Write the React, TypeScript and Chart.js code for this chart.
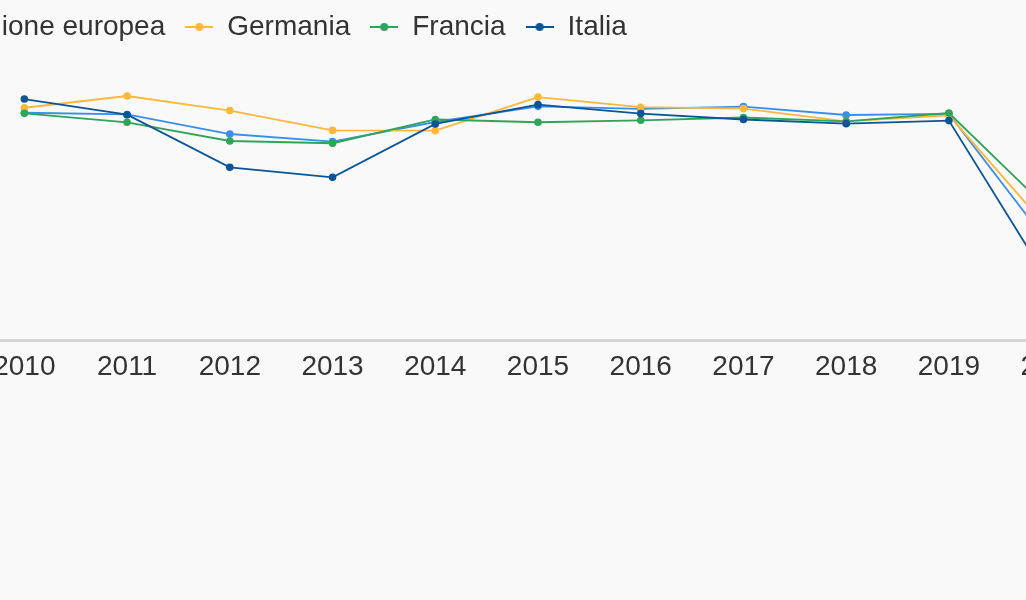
import React, { useEffect, useRef } from "react";
import { Chart, registerables } from "chart.js";

Chart.register(...registerables);

const years = ["2010", "2011", "2012", "2013", "2014", "2015", "2016", "2017", "2018", "2019", "2020"];
const seriesNames = ["Unione europea", "Germania", "Francia", "Italia"];
const euValues = [81.3, 80.7, 73.7, 71.0, 78.0, 83.6, 82.7, 83.5, 80.5, 80.9, 33.0];
const germanyValues = [83.1, 87.3, 82.1, 75.0, 74.9, 86.9, 83.3, 82.8, 78.2, 80.4, 38.4];
const franceValues = [81.1, 77.9, 71.2, 70.4, 78.9, 77.9, 78.6, 79.6, 78.2, 81.2, 45.6];
const italyValues = [86.2, 80.6, 61.8, 58.2, 77.3, 84.2, 81.0, 78.9, 77.4, 78.5, 19.2];
const colors = ["#3a8eeb", "#fdb83a", "#2fa55a", "#0a5596"];

function makeMarker(color: string): HTMLCanvasElement {
  const c = document.createElement("canvas");
  c.width = 28;
  c.height = 10;
  const ctx = c.getContext("2d")!;
  ctx.strokeStyle = color;
  ctx.lineWidth = 2;
  ctx.beginPath();
  ctx.moveTo(0, 5);
  ctx.lineTo(28, 5);
  ctx.stroke();
  ctx.fillStyle = color;
  ctx.beginPath();
  ctx.arc(14, 5, 4, 0, Math.PI * 2);
  ctx.fill();
  return c;
}

export default function App() {
  const ref = useRef<HTMLCanvasElement | null>(null);
  useEffect(() => {
    if (!ref.current) return;
    const all = [euValues, germanyValues, franceValues, italyValues];
    const markers = colors.map(makeMarker);
    const chart = new Chart(ref.current, {
      type: "line",
      data: {
        labels: years,
        datasets: all.map((vals, i) => ({
          label: seriesNames[i],
          data: vals,
          borderColor: colors[i],
          backgroundColor: colors[i],
          pointBackgroundColor: colors[i],
          pointBorderWidth: 0,
          pointRadius: 3.8,
          borderWidth: 1.8,
          tension: 0,
          order: 4 - i,
        })),
      },
      options: {
        animation: false,
        responsive: false,
        maintainAspectRatio: false,
        layout: { padding: { left: 4, right: 20, top: 0, bottom: 0 } },
        plugins: {
          tooltip: { enabled: false },
          legend: {
            display: true,
            align: "start",
            labels: {
              usePointStyle: true,
              pointStyleWidth: 28,
              padding: 20,
              color: "#333333",
              font: { family: "'Liberation Sans', Arial, sans-serif", size: 28 },
              sort: (a: any, b: any) => a.datasetIndex - b.datasetIndex,
              generateLabels: (ch: any) => {
                const items = Chart.defaults.plugins.legend.labels.generateLabels(ch);
                return items.map((it: any) => ({ ...it, pointStyle: markers[it.datasetIndex] }));
              },
            },
          },
        },
        scales: {
          x: {
            offset: true,
            grid: { display: false, drawTicks: false },
            border: { display: true, color: "#d3d3d3", width: 3 },
            ticks: {
              color: "#333333",
              padding: 10,
              maxRotation: 0,
              autoSkip: false,
              font: { family: "'Liberation Sans', Arial, sans-serif", size: 28 },
            },
            afterFit: (s: any) => {
              s.height = 50;
            },
          },
          y: {
            min: 0,
            max: 103.4,
            grid: { display: false, drawTicks: false },
            border: { display: false },
            ticks: { display: false },
            afterFit: (s: any) => {
              s.width = 69;
            },
          },
        },
      },
    });
    return () => chart.destroy();
  }, []);
  return (
    <div
      style={{
        position: "fixed",
        left: 0,
        top: 0,
        width: 1026,
        height: 600,
        overflow: "hidden",
        background: "#f9f9f9",
      }}
    >
      <canvas
        ref={ref}
        width={1223}
        height={397}
        style={{ position: "absolute", left: -100, top: -7, width: 1223, height: 397 }}
      />
    </div>
  );
}
